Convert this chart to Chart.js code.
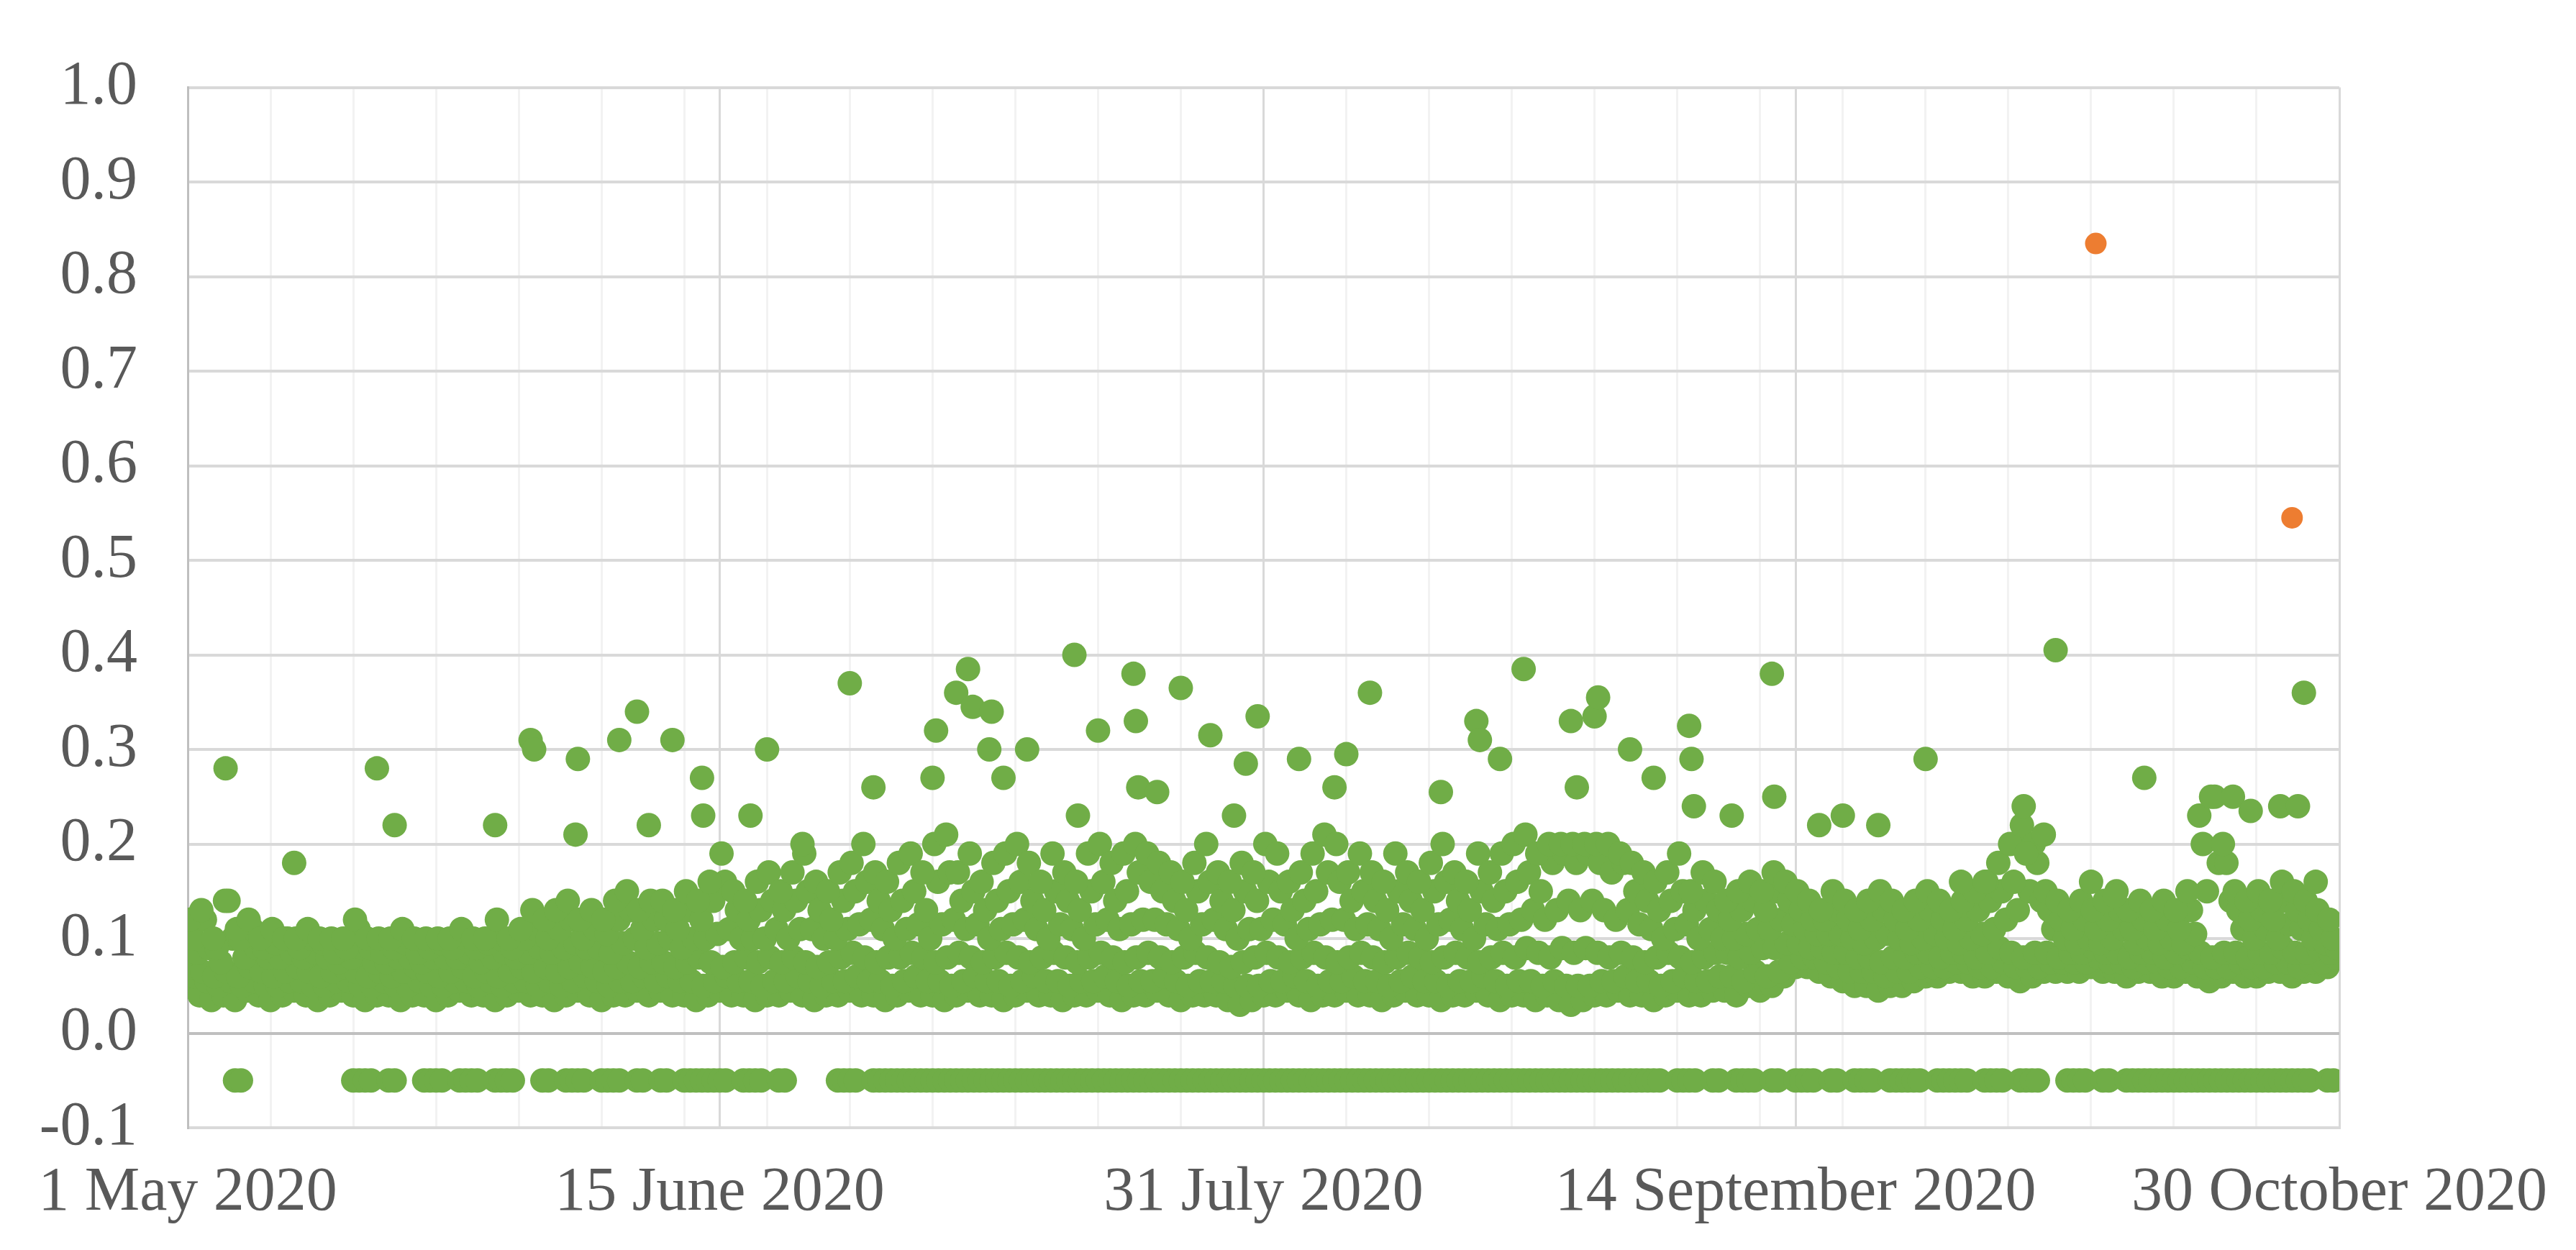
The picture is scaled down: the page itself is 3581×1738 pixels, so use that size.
<!DOCTYPE html>
<html><head><meta charset="utf-8">
<script src="https://cdn.jsdelivr.net/npm/chart.js@4/dist/chart.umd.min.js"></script>
<style>html,body{margin:0;padding:0;background:#fff}#w{width:3581px;height:1738px}</style>
</head><body><div id="w"><canvas id="c"></canvas></div>
<script>
// Day offsets from 1 May 2020
const tickDays = [0, 45, 91, 136, 182];
const tickLabels = ["1 May 2020", "15 June 2020", "31 July 2020", "14 September 2020", "30 October 2020"];
const yTicks = [-0.1,0,0.1,0.2,0.3,0.4,0.5,0.6,0.7,0.8,0.9,1.0];

const dayLow = [.05,.04,.035,.04,.035,.045,.04,.035,.04,.045,.04,.035,.04,.045,.04,.035,.04,.04,.035,.04,.04,.035,.04,.045,.04,.04,.035,.04,.045,.04,.04,.035,.04,.045,.04,.035,.04,.04,.045,.04,.045,.04,.04,.035,.04,.045,.04,.04,.035,.04,.04,.045,.04,.035,.04,.04,.045,.04,.04,.035,.04,.045,.04,.04,.035,.04,.045,.04,.04,.035,.04,.045,.04,.04,.035,.04,.04,.045,.04,.035,.04,.04,.045,.04,.035,.04,.04,.04,.035,.03,.035,.04,.04,.045,.04,.035,.04,.04,.045,.04,.04,.035,.04,.045,.04,.04,.035,.04,.04,.045,.04,.035,.04,.04,.035,.04,.035,.03,.035,.04,.04,.045,.04,.04,.035,.04,.045,.04,.04,.045,.045,.04,.05,.045,.05,.06,.07,.07,.065,.06,.055,.05,.05,.045,.05,.05,.055,.06,.06,.065,.065,.06,.06,.065,.06,.055,.06,.065,.065,.065,.065,.07,.065,.065,.06,.065,.065,.06,.06,.065,.06,.055,.06,.065,.06,.06,.065,.065,.06,.065,.065,.07];
const dayQ1 = [.06,.055,.05,.055,.05,.055,.05,.05,.055,.055,.05,.05,.055,.055,.05,.05,.055,.05,.05,.055,.05,.05,.055,.055,.05,.055,.05,.055,.055,.05,.055,.05,.055,.06,.055,.05,.055,.055,.06,.055,.06,.055,.055,.05,.055,.06,.055,.055,.05,.055,.055,.06,.055,.05,.055,.055,.06,.055,.055,.05,.055,.06,.055,.055,.05,.055,.06,.055,.055,.05,.055,.06,.055,.055,.05,.055,.055,.06,.055,.05,.055,.055,.06,.055,.05,.055,.055,.055,.05,.05,.05,.055,.055,.06,.055,.05,.055,.055,.06,.055,.055,.05,.055,.06,.055,.055,.05,.055,.055,.06,.055,.05,.055,.055,.05,.055,.05,.05,.05,.055,.055,.06,.055,.055,.05,.055,.06,.055,.055,.06,.06,.055,.065,.06,.065,.075,.08,.08,.075,.07,.065,.065,.065,.06,.065,.065,.07,.07,.07,.075,.075,.07,.07,.075,.07,.07,.07,.075,.075,.075,.075,.08,.075,.075,.07,.075,.075,.07,.07,.075,.07,.07,.07,.075,.07,.07,.075,.075,.07,.075,.075,.08];
const dayMid = [.07,.065,.06,.065,.06,.07,.065,.06,.065,.07,.065,.06,.065,.07,.065,.06,.065,.06,.065,.07,.065,.06,.065,.07,.06,.065,.06,.065,.07,.065,.07,.065,.07,.075,.07,.065,.07,.075,.07,.075,.075,.07,.075,.08,.075,.07,.075,.08,.075,.08,.075,.08,.075,.07,.075,.08,.085,.08,.075,.08,.08,.085,.08,.075,.08,.085,.08,.075,.08,.085,.08,.075,.08,.085,.08,.075,.08,.085,.08,.075,.08,.085,.08,.075,.08,.085,.08,.075,.07,.075,.08,.085,.08,.075,.08,.085,.08,.075,.08,.085,.08,.075,.08,.085,.08,.075,.08,.085,.08,.075,.08,.085,.08,.09,.085,.08,.09,.085,.09,.085,.08,.085,.08,.075,.08,.085,.08,.075,.08,.085,.085,.08,.085,.09,.09,.095,.095,.09,.09,.085,.085,.08,.08,.075,.08,.08,.085,.085,.08,.085,.085,.08,.085,.09,.085,.08,.085,.085,.08,.085,.085,.09,.085,.085,.08,.085,.085,.08,.085,.09,.085,.08,.085,.085,.08,.085,.085,.09,.085,.085,.09,.085];
const dayQ3 = [.085,.09,.075,.1,.08,.09,.08,.08,.085,.08,.085,.08,.075,.08,.09,.075,.075,.08,.08,.075,.08,.08,.08,.085,.075,.08,.085,.08,.085,.09,.085,.09,.095,.09,.09,.085,.095,.1,.09,.095,.1,.09,.1,.1,.105,.11,.1,.1,.1,.11,.1,.11,.11,.1,.1,.11,.115,.12,.11,.1,.11,.115,.1,.115,.12,.11,.115,.1,.11,.115,.12,.11,.1,.115,.11,.1,.115,.12,.11,.115,.12,.12,.115,.11,.1,.115,.12,.11,.1,.11,.11,.12,.115,.1,.11,.115,.12,.12,.11,.115,.11,.1,.115,.11,.1,.115,.12,.11,.1,.115,.11,.115,.12,.13,.12,.13,.14,.13,.14,.13,.12,.13,.115,.11,.1,.11,.115,.1,.11,.1,.1,.105,.11,.11,.12,.115,.11,.105,.105,.105,.1,.095,.1,.105,.1,.095,.1,.105,.1,.095,.1,.105,.11,.12,.13,.15,.14,.11,.1,.095,.1,.095,.1,.11,.095,.1,.095,.1,.095,.105,.15,.18,.14,.11,.1,.11,.1,.115,.11,.1,.095,.09];
const dayHigh = [.1,.12,.09,.14,.1,.11,.09,.095,.1,.09,.1,.095,.085,.09,.11,.09,.085,.09,.095,.085,.09,.095,.09,.1,.09,.095,.1,.09,.1,.11,.1,.11,.12,.1,.11,.105,.12,.13,.11,.12,.12,.11,.13,.12,.14,.16,.13,.12,.13,.14,.13,.14,.15,.13,.12,.14,.15,.16,.14,.13,.14,.15,.13,.16,.17,.14,.15,.13,.14,.15,.16,.14,.13,.15,.14,.13,.15,.16,.14,.15,.17,.16,.15,.14,.13,.15,.16,.14,.13,.15,.14,.16,.15,.13,.14,.15,.17,.16,.14,.15,.14,.13,.15,.14,.13,.15,.16,.14,.13,.15,.14,.15,.16,.17,.15,.18,.19,.18,.19,.18,.17,.18,.15,.14,.13,.14,.15,.13,.14,.13,.12,.13,.14,.13,.15,.14,.13,.12,.12,.13,.12,.11,.12,.13,.12,.11,.12,.13,.12,.11,.12,.13,.14,.15,.16,.2,.18,.13,.12,.11,.12,.11,.12,.13,.11,.12,.11,.12,.11,.13,.2,.25,.18,.13,.12,.13,.12,.14,.13,.12,.11,.1];
const dayTop = [.12,.13,.1,.14,.11,.12,.1,.11,.1,.1,.11,.1,.1,.1,.12,.1,.1,.1,.11,.1,.1,.1,.1,.11,.1,.1,.12,.1,.11,.13,.12,.13,.14,.12,.13,.12,.14,.15,.13,.14,.14,.13,.15,.14,.16,.19,.15,.14,.16,.17,.15,.17,.19,.16,.15,.17,.18,.2,.17,.16,.18,.19,.17,.2,.21,.17,.19,.16,.18,.19,.2,.18,.16,.19,.17,.16,.19,.2,.18,.19,.2,.19,.18,.17,.16,.18,.2,.17,.16,.18,.17,.2,.19,.16,.17,.19,.21,.2,.17,.19,.17,.16,.19,.17,.16,.18,.2,.17,.16,.19,.17,.19,.2,.21,.19,.2,.2,.2,.2,.2,.2,.19,.18,.17,.16,.17,.19,.15,.17,.16,.14,.15,.16,.15,.17,.16,.15,.14,.13,.15,.14,.13,.14,.15,.14,.13,.14,.15,.14,.13,.14,.15,.16,.18,.2,.22,.2,.15,.14,.13,.14,.13,.14,.15,.13,.14,.13,.14,.13,.15,.23,.25,.2,.15,.14,.15,.14,.16,.15,.14,.13,.12];

const spikeDays = [3.2,9,16,17.5,26,29,29.3,33,32.8,36.5,38,41,39,43.5,43.6,47.6,49,52,56,58,63,63.3,65,66,66.4,68,67.8,69,71,75,75.3,77,80,80.2,80.4,82,84,86.5,88.5,89.5,90.5,94,97,98,100,106,109,109.3,111,113,117,119,119.3,117.5,122,124,127,127.2,127.4,130.6,134,134.2,138,140,143,147,150,152,155.5,155.3,157,158,161,163,165.5,173,174.5,177,178.5,179,180];
const spikeVals = [.28,.18,.28,.22,.22,.31,.30,.29,.21,.31,.34,.31,.22,.27,.23,.23,.30,.20,.37,.26,.27,.32,.36,.385,.345,.34,.30,.27,.30,.40,.23,.32,.38,.33,.26,.255,.365,.315,.23,.285,.335,.29,.26,.295,.36,.255,.33,.31,.29,.385,.33,.335,.355,.26,.30,.27,.325,.29,.24,.23,.38,.25,.22,.23,.22,.29,.16,.16,.19,.24,.21,.405,.16,.145,.27,.25,.235,.24,.24,.36,.16];

const negDays = [4,14,15,17,20,21,23,24,26,27,30,32,33,35,36,38,40,42,43,44,45,47,48,50,55,56,58,59,60,61,62,63,64,65,66,67,68,69,70,71,72,73,74,75,76,77,78,79,80,81,82,83,84,85,86,87,88,89,90,91,92,93,94,95,96,97,98,99,100,101,102,103,104,105,106,107,108,109,110,111,112,113,114,115,116,117,118,119,120,121,122,123,124,126,127,129,131,132,134,136,137,139,141,142,144,145,146,148,149,150,152,153,155,156,159,160,162,164,165,166,167,168,169,170,171,172,173,174,175,176,177,178,179,181];
const negValue = -0.05;

const outlierDays = [161.4, 178];
const outlierVals = [0.835, 0.545];

const green = [];
const layers = [[dayLow,0.0],[dayQ1,0.6],[dayMid,0.25],[dayQ3,0.8],[dayHigh,0.45],[dayTop,0.15]];
layers.forEach(([arr,off]) => arr.forEach((v,i) => { if (i + off <= 182) green.push({x: i + off, y: v}); }));
spikeDays.forEach((d,i) => green.push({x: d, y: spikeVals[i]}));
negDays.forEach(d => { green.push({x: d, y: negValue}); green.push({x: d + 0.5, y: negValue}); });
const orange = outlierDays.map((d,i) => ({x: d, y: outlierVals[i]}));

const weekly = []; for (let d = 0; d <= 182; d += 7) weekly.push(d);
const allTicks = Array.from(new Set(weekly.concat(tickDays))).sort((a,b)=>a-b);

new Chart(document.getElementById('c'), {
  type: 'scatter',
  data: { datasets: [
    { data: orange, backgroundColor: '#ED7D31', borderWidth: 0, pointRadius: 15, order: 0 },
    { data: green, backgroundColor: '#70AD47', borderWidth: 0, pointRadius: 17, order: 1 }
  ]},
  options: {
    responsive: true, maintainAspectRatio: false, animation: false,
    layout: { padding: { left: 0, right: 312, top: 22, bottom: 0 } },
    plugins: { legend: { display: false }, tooltip: { enabled: false } },
    scales: {
      x: {
        type: 'linear', min: 0, max: 182,
        afterBuildTicks: s => { s.ticks = allTicks.map(v => ({value: v})); },
        afterFit: s => { s.height = 170; },
        ticks: {
          autoSkip: false, maxRotation: 0, padding: 40,
          color: '#595959', font: { family: 'Liberation Serif', size: 86 },
          callback: v => { const k = tickDays.indexOf(v); return k >= 0 ? tickLabels[k] : ''; }
        },
        grid: {
          drawTicks: false,
          color: c => tickDays.includes(c.tick.value) ? '#D9D9D9' : '#F2F2F2',
          lineWidth: 3
        },
        border: { display: true, color: '#D9D9D9', width: 3 }
      },
      y: {
        min: -0.1, max: 1.0,
        afterBuildTicks: s => { s.ticks = yTicks.map(v => ({value: v})); },
        afterFit: s => { s.width = 261; },
        ticks: {
          padding: 70, color: '#595959', font: { family: 'Liberation Serif', size: 86 },
          callback: v => v.toFixed(1)
        },
        grid: {
          drawTicks: false,
          color: c => Math.abs(c.tick.value) < 1e-9 ? '#BFBFBF' : '#D9D9D9',
          lineWidth: 4
        },
        border: { display: true, color: '#BFBFBF', width: 3 }
      }
    }
  }
});
</script></body></html>
